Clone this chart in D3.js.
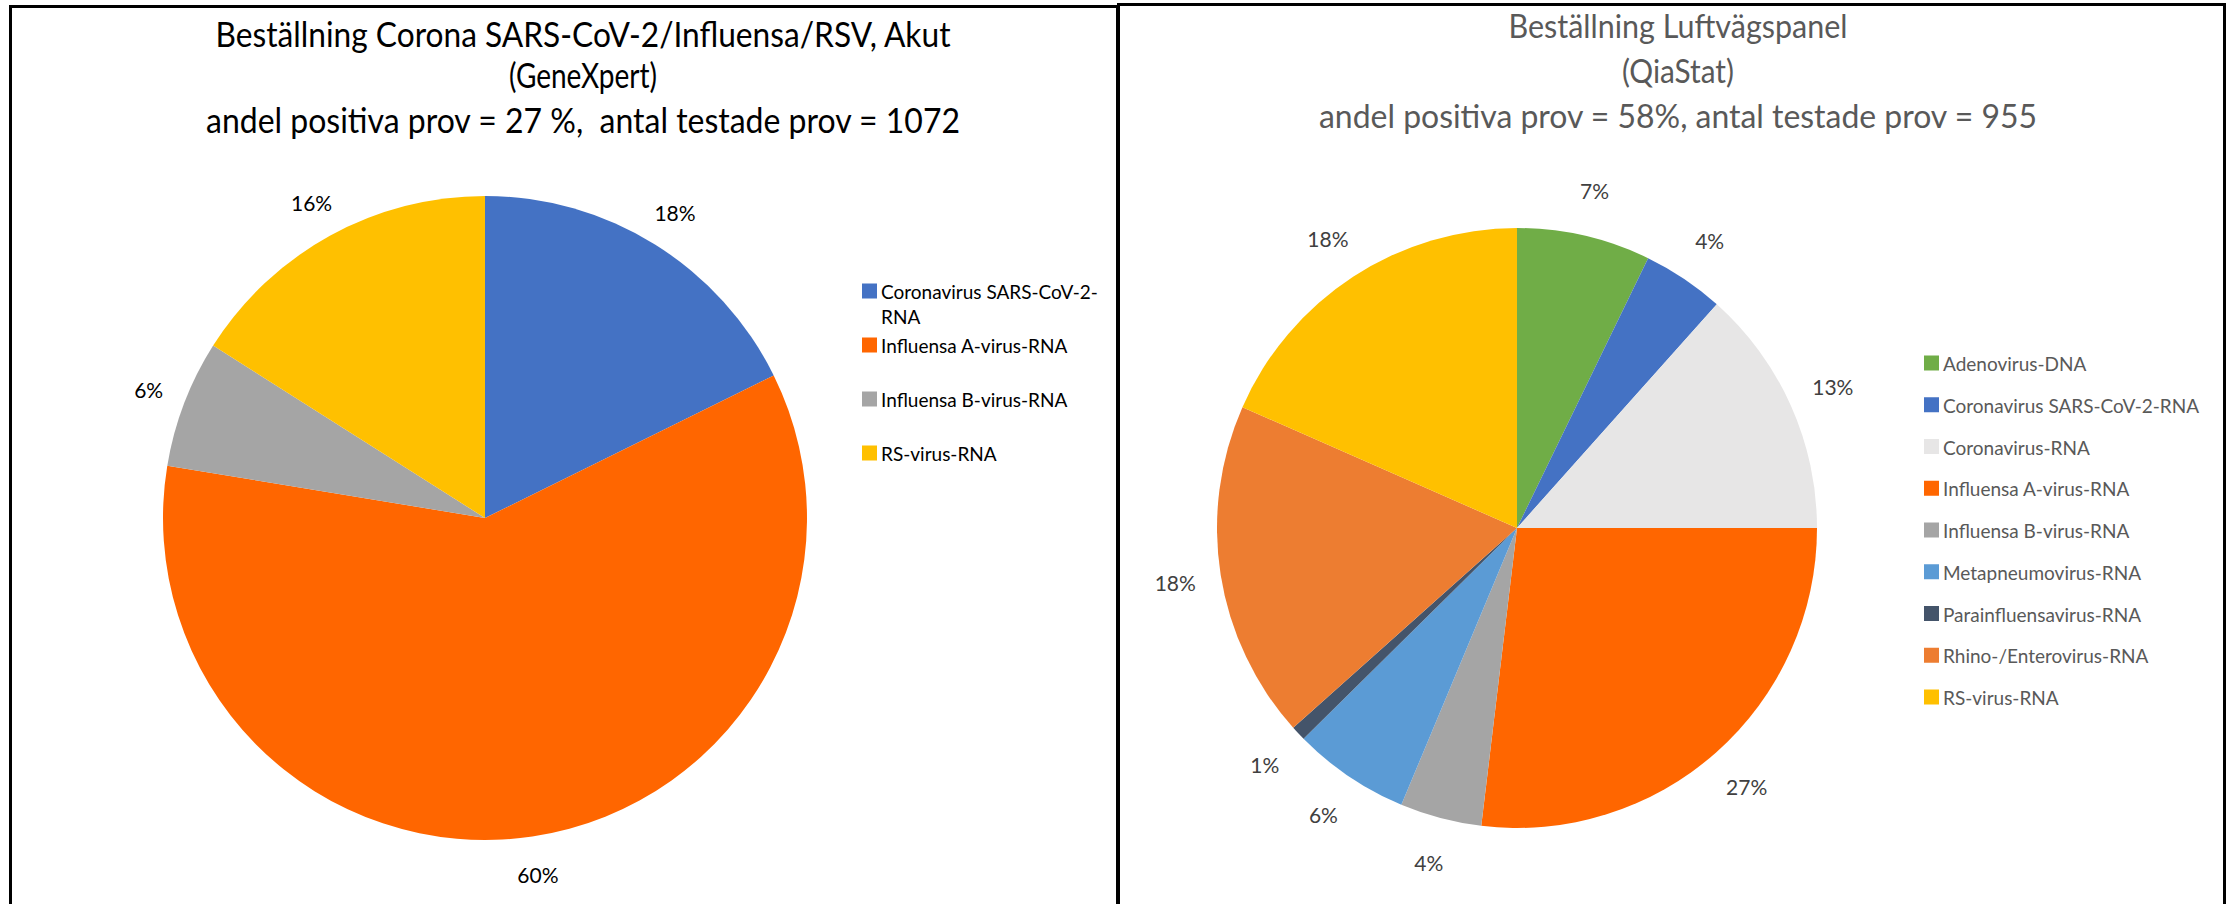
<!DOCTYPE html>
<html>
<head>
<meta charset="utf-8">
<script src="https://cdn.jsdelivr.net/npm/d3@7"></script>
<style>
  html, body { margin: 0; padding: 0; background: #fff; }
  svg { display: block; }
  text { white-space: pre; }
</style>
</head>
<body>
<svg id="chart" width="2231" height="904"></svg>
<script>
// ---------- DATA ----------
const leftTitle = [
  "Beställning Corona SARS-CoV-2/Influensa/RSV, Akut",
  "(GeneXpert)",
  "andel positiva prov = 27 %,  antal testade prov = 1072"
];
const leftCategories = [
  "Coronavirus SARS-CoV-2-RNA",
  "Influensa A-virus-RNA",
  "Influensa B-virus-RNA",
  "RS-virus-RNA"
];
const leftValues = [17.7, 59.9, 6.4, 16.0];

const rightTitle = [
  "Beställning Luftvägspanel",
  "(QiaStat)",
  "andel positiva prov = 58%, antal testade prov = 955"
];
const rightCategories = [
  "Adenovirus-DNA",
  "Coronavirus SARS-CoV-2-RNA",
  "Coronavirus-RNA",
  "Influensa A-virus-RNA",
  "Influensa B-virus-RNA",
  "Metapneumovirus-RNA",
  "Parainfluensavirus-RNA",
  "Rhino-/Enterovirus-RNA",
  "RS-virus-RNA"
];
const rightValues = [7.2, 4.4, 13.4, 26.9, 4.4, 6.3, 0.8, 18.2, 18.4];

// ---------- STYLES ----------
const leftColors = ["#4472C4", "#FF6600", "#A5A5A5", "#FFC000"];
const rightColors = ["#70AD47", "#4472C4", "#E7E6E6", "#FF6600", "#A5A5A5",
                     "#5B9BD5", "#44546A", "#ED7D31", "#FFC000"];
const FONT = "Lato, 'Open Sans', sans-serif";

const svg = d3.select("#chart");

// panel borders
svg.append("rect").attr("x", 10.5).attr("y", 6.5).attr("width", 1107).attr("height", 960)
  .attr("fill", "none").attr("stroke", "#000").attr("stroke-width", 3);
svg.append("rect").attr("x", 1118.5).attr("y", 4.5).attr("width", 1106).attr("height", 960)
  .attr("fill", "none").attr("stroke", "#000").attr("stroke-width", 3);

function drawPanel(cfg) {
  const g = svg.append("g");
  // title
  cfg.title.forEach((t, i) => {
    g.append("text")
      .attr("x", cfg.titleX)
      .attr("y", cfg.titleY[i])
      .attr("text-anchor", "middle")
      .attr("font-family", FONT)
      .attr("font-size", cfg.titleSize)
      .attr("fill", cfg.titleColor)
      .attr("textLength", cfg.titleWidths[i])
      .attr("lengthAdjust", "spacingAndGlyphs")
      .text(t);
  });

  const pie = d3.pie().sort(null).value(d => d);
  const arcs = pie(cfg.values);
  const arc = d3.arc().innerRadius(0).outerRadius(cfg.r);
  const labelArc = d3.arc().innerRadius(cfg.labelR).outerRadius(cfg.labelR);
  const color = d3.scaleOrdinal().domain(cfg.categories).range(cfg.colors);

  const pg = g.append("g").attr("transform", `translate(${cfg.cx},${cfg.cy})`);
  pg.selectAll("path").data(arcs).join("path")
    .attr("d", arc)
    .attr("fill", (d, i) => color(cfg.categories[i]));

  pg.selectAll("text").data(arcs).join("text")
    .attr("transform", d => `translate(${labelArc.centroid(d)})`)
    .attr("text-anchor", "middle")
    .attr("dominant-baseline", "central")
    .attr("font-family", FONT)
    .attr("font-size", cfg.labelSize)
    .attr("fill", cfg.labelColor)
    .text(d => Math.round(d.data) + "%");

  // legend
  const ly = d3.scalePoint().domain(cfg.categories).range(cfg.legendRange);
  const lg = g.append("g");
  const items = lg.selectAll("g").data(cfg.categories).join("g")
    .attr("transform", d => `translate(${cfg.legendX},${ly(d)})`);
  items.append("rect")
    .attr("x", 0).attr("y", -7.5).attr("width", 15).attr("height", 15)
    .attr("fill", d => color(d));
  items.each(function(d) {
    const t = d3.select(this).append("text")
      .attr("x", 19)
      .attr("y", 0)
      .attr("dominant-baseline", "central")
      .attr("font-family", FONT)
      .attr("font-size", cfg.legendSize)
      .attr("fill", cfg.legendColor);
    const lines = cfg.wrap[d] || [d];
    lines.forEach((ln, k) => {
      t.append("tspan").attr("x", 19).attr("dy", k === 0 ? 0 : cfg.legendLine).text(ln);
    });
  });
}

drawPanel({
  title: leftTitle,
  titleX: 583,
  titleY: [47, 88, 133],
  titleWidths: [735, 148, 754],
  titleSize: 34,
  titleColor: "#000",
  categories: leftCategories,
  values: leftValues,
  colors: leftColors,
  cx: 485, cy: 518, r: 322, labelR: 360,
  labelSize: 21, labelColor: "#000",
  legendX: 862, legendRange: [291, 453],
  legendSize: 19, legendColor: "#000", legendLine: 25,
  wrap: {"Coronavirus SARS-CoV-2-RNA": ["Coronavirus SARS-CoV-2-", "RNA"]}
});

drawPanel({
  title: rightTitle,
  titleX: 1678,
  titleY: [38, 83, 128],
  titleWidths: [339, 112, 718],
  titleSize: 33,
  titleColor: "#595959",
  categories: rightCategories,
  values: rightValues,
  colors: rightColors,
  cx: 1517, cy: 528, r: 300, labelR: 346,
  labelSize: 21, labelColor: "#404040",
  legendX: 1924, legendRange: [363, 697],
  legendSize: 19, legendColor: "#595959", legendLine: 25,
  wrap: {}
});
</script>
</body>
</html>
